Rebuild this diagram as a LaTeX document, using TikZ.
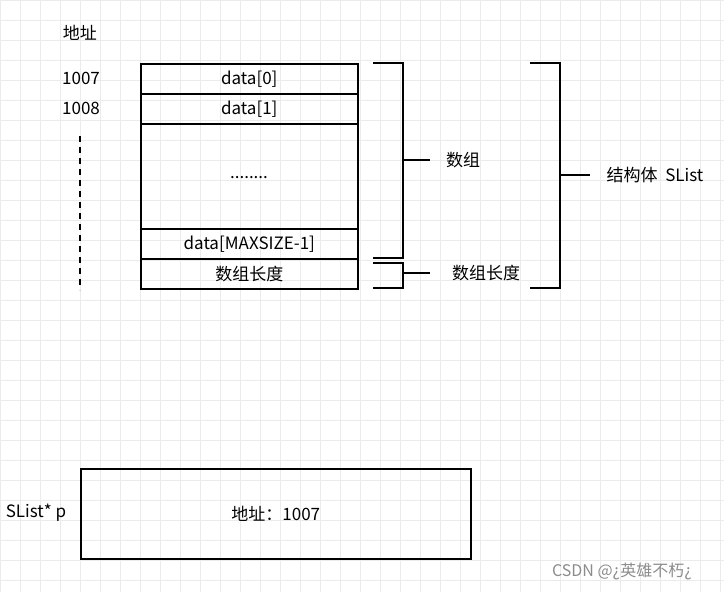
\documentclass[tikz,border=0pt]{standalone}
\usepackage{fontspec}
\setmainfont{Noto Sans CJK SC}
\begin{document}
\begin{tikzpicture}[x=1pt,y=-1pt,
  cell/.style={draw,line width=1.6pt,minimum width=217pt,anchor=north west,inner sep=0pt,font=\fontsize{17}{19}\selectfont},
  lab/.style={font=\fontsize{17}{19}\selectfont,inner sep=1pt},
  br/.style={line width=1.6pt}]
\fill[white] (0,0) rectangle (724,592);
\useasboundingbox (0,0) rectangle (724,592);
\foreach \i in {0,20,...,720} \draw[black!8,line width=0.4pt] (\i,0) -- (\i,592);
\foreach \j in {0,20,...,580} \draw[black!8,line width=0.4pt] (0,\j) -- (724,\j);
\node[cell,minimum height=30pt] (d0) at (140,63) {data[0]};
\node[cell,minimum height=30pt] (d1) at (140,93) {data[1]};
\node[cell,minimum height=105pt] (dm) at (140,123) {};
\node[lab] (dots) at (249,178) {........};
\node[cell,minimum height=30pt] (dl) at (140,228) {data[MAXSIZE-1]};
\node[cell,minimum height=30pt] (len) at (140,258) {数组长度};
\node[lab] (addr) at (80,33) {地址};
\node[lab] (a1) at (81,78) {1007};
\node[lab] (a2) at (81,108) {1008};
\draw[dashed,line width=1.6pt,dash pattern=on 6pt off 5pt] (80,136) -- (80,290);
\draw[br] (373,63) -- (403,63) -- (403,258) -- (373,258);
\draw[br] (403,160) -- (430,160);
\node[lab] (arr) at (463,160) {数组};
\draw[br] (373,263) -- (403,263) -- (403,288) -- (373,288);
\draw[br] (403,273) -- (430,273);
\node[lab] (arrlen) at (486,273) {数组长度};
\draw[br] (530,63) -- (560,63) -- (560,288) -- (530,288);
\draw[br] (560,175) -- (590,175);
\node[lab] (st) at (655,175) {结构体\ \ SList};
\node[draw,line width=1.6pt,minimum width=390pt,minimum height=90pt,anchor=north west,font=\fontsize{17}{19}\selectfont] (pbox) at (80,468) {地址：1007};
\node[lab] (p) at (36,513) {SList* p};
\node[font=\fontsize{16}{18}\selectfont,text=black!45] (wm) at (622,572) {CSDN @¿英雄不朽¿};
\end{tikzpicture}
\end{document}
